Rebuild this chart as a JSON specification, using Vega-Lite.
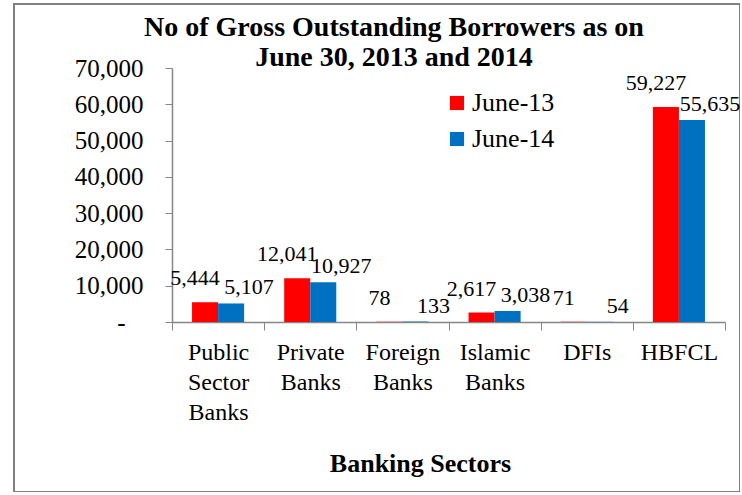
{
  "$schema": "https://vega.github.io/schema/vega-lite/v6.json",
  "width": 726,
  "height": 488,
  "autosize": {"type": "none"},
  "padding": {"left": 14, "top": 4, "right": 0, "bottom": 0},
  "background": "white",
  "config": {
    "view": {"stroke": "#808080", "strokeWidth": 2},
    "font": "Liberation Serif"
  },
  "title": {
    "text": ["No of Gross Outstanding Borrowers as on", "June 30, 2013 and 2014"],
    "fontSize": 28,
    "fontWeight": "bold",
    "font": "Liberation Serif",
    "color": "black",
    "anchor": "middle",
    "frame": "group",
    "offset": -68,
    "dx": 17,
    "lineHeight": 30
  },
  "data": {
    "values": [
      {"sector": "Public Sector Banks", "period": "June-13", "value": 5444},
      {"sector": "Public Sector Banks", "period": "June-14", "value": 5107},
      {"sector": "Private Banks", "period": "June-13", "value": 12041},
      {"sector": "Private Banks", "period": "June-14", "value": 10927},
      {"sector": "Foreign Banks", "period": "June-13", "value": 78},
      {"sector": "Foreign Banks", "period": "June-14", "value": 133},
      {"sector": "Islamic Banks", "period": "June-13", "value": 2617},
      {"sector": "Islamic Banks", "period": "June-14", "value": 3038},
      {"sector": "DFIs", "period": "June-13", "value": 71},
      {"sector": "DFIs", "period": "June-14", "value": 54},
      {"sector": "HBFCL", "period": "June-13", "value": 59227},
      {"sector": "HBFCL", "period": "June-14", "value": 55635}
    ]
  },
  "encoding": {
    "x": {
      "field": "sector",
      "type": "nominal",
      "sort": null,
      "scale": {"range": [158, 711], "paddingInner": 0, "paddingOuter": 0},
      "axis": {
        "orient": "bottom",
        "offset": -170,
        "tickBand": "extent",
        "tickSize": 8,
        "tickColor": "#868686",
        "domainColor": "#868686",
        "domainWidth": 1.5,
        "labelAngle": 0,
        "labelExpr": "split(datum.label, ' ')",
        "labelFontSize": 24,
        "labelLineHeight": 30,
        "labelPadding": 10,
        "labelColor": "black",
        "title": "Banking Sectors",
        "titleFontSize": 26,
        "titleFontWeight": "bold",
        "titleColor": "black",
        "titlePadding": 26,
        "titleX": 406
      }
    },
    "xOffset": {
      "field": "period",
      "type": "nominal",
      "sort": ["June-13", "June-14"],
      "scale": {"paddingInner": 0, "paddingOuter": 0.77}
    },
    "y": {
      "field": "value",
      "type": "quantitative",
      "scale": {"domain": [0, 70000], "range": [318, 64], "nice": false, "zero": true},
      "axis": {
        "orient": "left",
        "offset": -158,
        "values": [0, 10000, 20000, 30000, 40000, 50000, 60000, 70000],
        "labelExpr": "datum.value == 0 ? '-' : format(datum.value, ',')",
        "labelFontSize": 25,
        "labelPadding": {"condition": {"test": "datum.value == 0", "value": 40}, "value": 22},
        "labelColor": "black",
        "tickSize": 7,
        "tickColor": "#868686",
        "domainColor": "#868686",
        "domainWidth": 1.5,
        "grid": false,
        "title": null
      }
    }
  },
  "layer": [
    {
      "mark": {"type": "bar"},
      "encoding": {
        "color": {
          "field": "period",
          "type": "nominal",
          "scale": {"domain": ["June-13", "June-14"], "range": ["#FF0000", "#0070C0"]},
          "legend": {
            "orient": "none",
            "legendX": 430,
            "legendY": 86,
            "title": null,
            "symbolType": "square",
            "symbolSize": 200,
            "symbolStrokeWidth": 0,
            "labelFontSize": 26,
            "labelColor": "black",
            "rowPadding": 10,
            "labelOffset": 2,
            "fillColor": "white"
          }
        }
      }
    },
    {
      "transform": [{"filter": "datum.period == 'June-13'"}],
      "mark": {"type": "text", "fontSize": 22, "dy": -17, "dx": -10, "baseline": "alphabetic", "color": "black"},
      "encoding": {"text": {"field": "value", "type": "quantitative", "format": ","}}
    },
    {
      "transform": [{"filter": "datum.period == 'June-14'"}],
      "mark": {"type": "text", "fontSize": 22, "dy": -9, "dx": 18, "baseline": "alphabetic", "color": "black"},
      "encoding": {"text": {"field": "value", "type": "quantitative", "format": ","}}
    }
  ]
}
